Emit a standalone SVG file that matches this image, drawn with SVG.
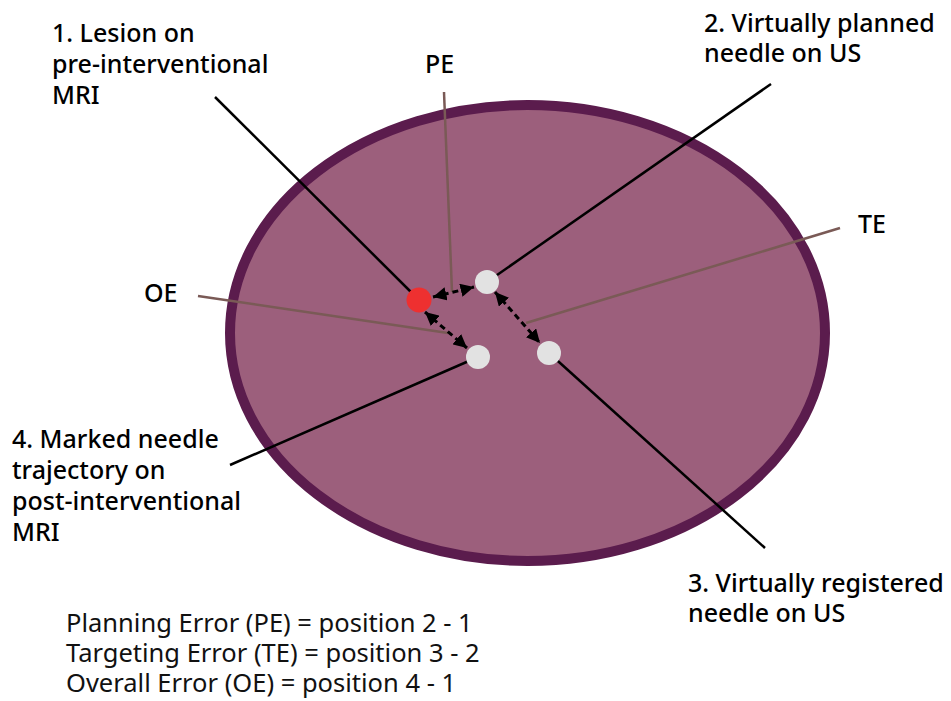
<svg xmlns="http://www.w3.org/2000/svg" width="951" height="701" viewBox="0 0 951 701">
<defs>
<style>
.lbl{font-family:"Noto Sans","Open Sans",sans-serif;font-size:25px;font-weight:500;fill:#000}
.eq{font-family:"Noto Sans","Open Sans",sans-serif;font-size:25.5px;font-weight:400;fill:#111}
.ptr{stroke:#000;stroke-width:2.5;fill:none}
.err{stroke:#7a5a56;stroke-width:2.5;fill:none}
.dash{stroke:#000;stroke-width:3;stroke-dasharray:6 4;fill:none;marker-start:url(#ah);marker-end:url(#ah)}
.white{fill:#e2e2e2}
</style>
<marker id="ah" viewBox="0 0 10 10" refX="10" refY="5" markerWidth="4.5" markerHeight="4.5" orient="auto-start-reverse" markerUnits="strokeWidth">
<path d="M0,0 L10,5 L0,10 Z" fill="#000"/>
</marker>
</defs>
<rect width="951" height="701" fill="#fff"/>
<g id="organ">
<ellipse cx="527.5" cy="333" rx="297.5" ry="228" fill="#9c5f7c" stroke="#5b1c4d" stroke-width="10"/>
</g>
<g id="connectors">
<line class="err" x1="444" y1="92" x2="452" y2="292"/>
<line class="err" x1="840" y1="228" x2="526" y2="323"/>
<line class="err" x1="198" y1="296" x2="448" y2="333"/>
<line class="ptr" x1="215" y1="97" x2="419" y2="300"/>
<line class="ptr" x1="771" y1="84" x2="487" y2="282"/>
<line class="ptr" x1="765" y1="548" x2="549" y2="353"/>
<line class="ptr" x1="230" y1="465" x2="478" y2="357"/>
<line class="dash" x1="433" y1="297" x2="474" y2="287"/>
<line class="dash" x1="495" y1="292" x2="540" y2="343"/>
<line class="dash" x1="425" y1="312" x2="467" y2="348"/>
</g>
<g id="node1"><circle cx="419" cy="300" r="12.5" fill="#ee3030"/></g>
<g id="node2"><circle class="white" cx="487" cy="282" r="12"/></g>
<g id="node3"><circle class="white" cx="549" cy="353" r="12"/></g>
<g id="node4"><circle class="white" cx="478" cy="357" r="12"/></g>
<g id="label1"><text class="lbl" x="52" y="42">1. Lesion on<tspan x="52" y="73">pre-interventional</tspan><tspan x="52" y="104">MRI</tspan></text></g>
<g id="label2"><text class="lbl" x="704" y="32">2. Virtually planned<tspan x="704" y="62">needle on US</tspan></text></g>
<g id="label3"><text class="lbl" x="688" y="592">3. Virtually registered<tspan x="688" y="622">needle on US</tspan></text></g>
<g id="label4"><text class="lbl" x="12" y="448">4. Marked needle<tspan x="12" y="479">trajectory on</tspan><tspan x="12" y="510">post-interventional</tspan><tspan x="12" y="541">MRI</tspan></text></g>
<g id="labelPE"><text class="lbl" x="425" y="73">PE</text></g>
<g id="labelTE"><text class="lbl" x="858" y="233">TE</text></g>
<g id="labelOE"><text class="lbl" x="144" y="302">OE</text></g>
<g id="legend">
<text class="eq" x="66" y="632">Planning Error (PE) = position 2 - 1</text>
<text class="eq" x="66" y="662">Targeting Error (TE) = position 3 - 2</text>
<text class="eq" x="66" y="692">Overall Error (OE) = position 4 - 1</text>
</g>
</svg>
